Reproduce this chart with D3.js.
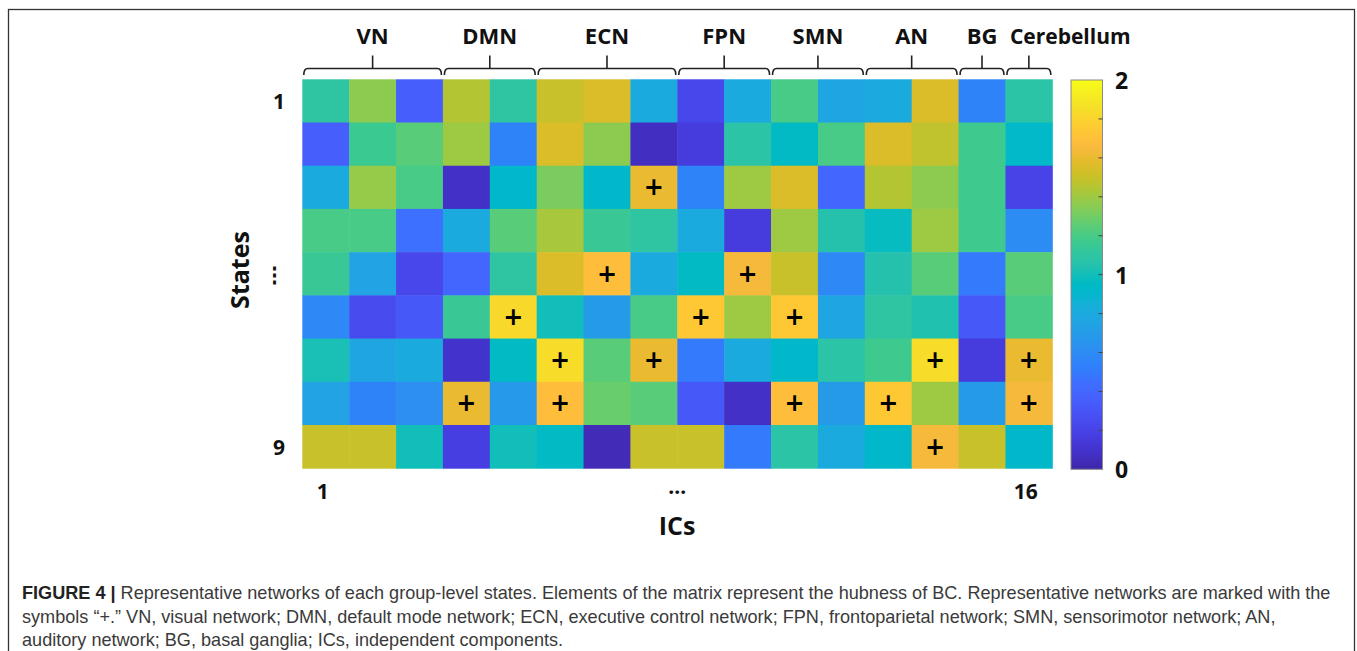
<!DOCTYPE html>
<meta charset="utf-8">
<style>
  body { margin: 0; background: #fff; }
  .grp { font-family: "Open Sans", sans-serif; font-weight: 700; font-size: 22px; fill: #111; }
  .tick { font-family: "Open Sans", sans-serif; font-weight: 700; font-size: 21px; fill: #111; }
  .ttl { font-family: "Open Sans", sans-serif; font-weight: 700; font-size: 25px; fill: #111; }
  .cap { font-family: "Liberation Sans", Arial, sans-serif; font-size: 18.1px; fill: #3a3a3a; }
</style>
<body>
<script src="https://d3js.org/d3.v7.min.js"></script>
<script>

// network groups over the 16 ICs
var groups = ["VN", "DMN", "ECN", "FPN", "SMN", "AN", "BG", "Cerebellum"];
var groupStart = [1, 4, 6, 9, 11, 13, 15, 16];
var groupEnd   = [3, 5, 8, 10, 12, 14, 15, 16];

var states = d3.range(1, 10);
var ics = d3.range(1, 17);

// hubness of BC, one row per state
var hubness = [
  [1.10, 1.36, 0.35, 1.45, 1.10, 1.50, 1.55, 0.80, 0.22, 0.80, 1.20, 0.76, 0.80, 1.55, 0.55, 1.08],
  [0.35, 1.16, 1.24, 1.40, 0.55, 1.55, 1.36, 0.07, 0.15, 1.08, 0.95, 1.20, 1.55, 1.48, 1.17, 0.93],
  [0.80, 1.38, 1.20, 0.08, 0.92, 1.32, 0.92, 1.60, 0.55, 1.40, 1.55, 0.40, 1.45, 1.36, 1.17, 0.20],
  [1.20, 1.20, 0.45, 0.80, 1.24, 1.42, 1.15, 1.10, 0.80, 0.15, 1.40, 1.05, 0.97, 1.40, 1.17, 0.60],
  [1.15, 0.75, 0.22, 0.40, 1.10, 1.55, 1.68, 0.80, 0.95, 1.64, 1.50, 0.58, 1.05, 1.24, 0.50, 1.24],
  [0.58, 0.25, 0.32, 1.15, 1.82, 1.00, 0.70, 1.20, 1.74, 1.40, 1.74, 0.76, 1.10, 1.04, 0.32, 1.20],
  [1.02, 0.76, 0.80, 0.10, 0.95, 1.84, 1.24, 1.60, 0.50, 0.80, 0.92, 1.08, 1.17, 1.84, 0.15, 1.60],
  [0.75, 0.55, 0.62, 1.60, 0.68, 1.68, 1.28, 1.24, 0.32, 0.08, 1.68, 0.70, 1.74, 1.40, 0.70, 1.64],
  [1.50, 1.50, 1.00, 0.17, 1.00, 0.95, 0.04, 1.50, 1.50, 0.50, 1.08, 0.80, 0.92, 1.64, 1.50, 0.92]
];

// representative networks, [state, IC]
var marked = [
  [3, 8], [5, 7], [5, 10], [6, 5], [6, 9], [6, 11],
  [7, 6], [7, 8], [7, 14], [7, 16],
  [8, 4], [8, 6], [8, 11], [8, 13], [8, 16], [9, 14]
];

var colorTicks = [0, 1, 2];

// parula (64)
var parula = [
  [0.2422,0.1504,0.6603],[0.2504,0.1650,0.7076],[0.2578,0.1818,0.7511],[0.2647,0.1978,0.7952],
  [0.2706,0.2147,0.8364],[0.2751,0.2342,0.8710],[0.2783,0.2559,0.8991],[0.2803,0.2782,0.9221],
  [0.2813,0.3006,0.9414],[0.2810,0.3228,0.9579],[0.2795,0.3447,0.9717],[0.2760,0.3667,0.9829],
  [0.2699,0.3892,0.9906],[0.2602,0.4123,0.9952],[0.2440,0.4358,0.9988],[0.2206,0.4603,0.9973],
  [0.1963,0.4847,0.9892],[0.1834,0.5074,0.9798],[0.1786,0.5289,0.9682],[0.1764,0.5499,0.9520],
  [0.1687,0.5703,0.9359],[0.1540,0.5902,0.9218],[0.1460,0.6091,0.9079],[0.1380,0.6276,0.8973],
  [0.1248,0.6459,0.8883],[0.1113,0.6635,0.8763],[0.0952,0.6798,0.8598],[0.0689,0.6948,0.8394],
  [0.0297,0.7082,0.8163],[0.0036,0.7203,0.7917],[0.0067,0.7312,0.7660],[0.0433,0.7411,0.7394],
  [0.0964,0.7500,0.7120],[0.1408,0.7584,0.6842],[0.1717,0.7670,0.6554],[0.1938,0.7758,0.6251],
  [0.2161,0.7843,0.5923],[0.2470,0.7918,0.5567],[0.2906,0.7973,0.5188],[0.3406,0.8008,0.4789],
  [0.3909,0.8029,0.4354],[0.4456,0.8024,0.3909],[0.5044,0.7993,0.3480],[0.5616,0.7942,0.3045],
  [0.6174,0.7876,0.2612],[0.6720,0.7793,0.2227],[0.7242,0.7698,0.1910],[0.7738,0.7598,0.1646],
  [0.8203,0.7498,0.1535],[0.8634,0.7406,0.1596],[0.9035,0.7330,0.1774],[0.9393,0.7288,0.2100],
  [0.9728,0.7298,0.2394],[0.9956,0.7434,0.2371],[0.9970,0.7659,0.2199],[0.9952,0.7893,0.2028],
  [0.9892,0.8136,0.1885],[0.9786,0.8386,0.1766],[0.9676,0.8639,0.1643],[0.9610,0.8890,0.1537],
  [0.9597,0.9135,0.1423],[0.9628,0.9373,0.1265],[0.9691,0.9606,0.1064],[0.9769,0.9839,0.0805]
].map(function(c) { return d3.rgb(c[0]*255, c[1]*255, c[2]*255).formatHex(); });

var W = 1357, H = 651;
var svg = d3.select("body").append("svg")
    .attr("width", W)
    .attr("height", H);

// figure frame
svg.append("rect")
    .attr("x", 8.5).attr("y", 9.5)
    .attr("width", 1346).attr("height", 700)
    .attr("fill", "none")
    .attr("stroke", "#333")
    .attr("stroke-width", 1.3);

var x = d3.scaleBand().domain(ics).range([302.3, 1052.3]);
var y = d3.scaleBand().domain(states).range([79.3, 468.2]);
var color = d3.scaleLinear()
    .domain(parula.map(function(d, i) { return i / 63 * 2; }))
    .range(parula)
    .clamp(true);

// cells
var cells = [];
hubness.forEach(function(row, i) {
  row.forEach(function(v, j) { cells.push({s: states[i], ic: ics[j], v: v}); });
});
svg.append("g").selectAll("rect")
    .data(cells)
  .enter().append("rect")
    .attr("x", function(d) { return x(d.ic); })
    .attr("y", function(d) { return y(d.s); })
    .attr("width", x.bandwidth() + 0.5)
    .attr("height", y.bandwidth() + 0.5)
    .attr("fill", function(d) { return color(d.v); });

// plus markers
svg.append("g").selectAll("text")
    .data(marked)
  .enter().append("text")
    .attr("x", function(d) { return x(d[1]) + x.bandwidth() / 2; })
    .attr("y", function(d) { return y(d[0]) + y.bandwidth() / 2; })
    .attr("text-anchor", "middle")
    .attr("dominant-baseline", "central")
    .style("font-family", "DejaVu Sans, sans-serif")
    .style("font-size", "24px")
    .style("font-weight", "700")
    .attr("fill", "#000")
    .text("+");

// group braces
var by = 68.5, bDrop = 6.5, bTop = 55.5;
groups.forEach(function(g, i) {
  var x0 = x(groupStart[i]) + 1.5,
      x1 = x(groupEnd[i]) + x.bandwidth() - 1.5,
      xm = (x0 + x1) / 2;
  var p = d3.path();
  p.moveTo(x0, by + bDrop);
  p.quadraticCurveTo(x0, by, x0 + 4, by);
  p.lineTo(x1 - 4, by);
  p.quadraticCurveTo(x1, by, x1, by + bDrop);
  p.moveTo(xm, by);
  p.lineTo(xm, bTop);
  svg.append("path")
      .attr("d", p.toString())
      .attr("fill", "none")
      .attr("stroke", "#222")
      .attr("stroke-width", 1.6);
  // the long last label starts near its brace instead of centring on it
  var last = i === groups.length - 1;
  svg.append("text")
      .attr("class", "grp")
      .attr("x", last ? x0 + 3 : xm)
      .attr("y", 44)
      .attr("text-anchor", last ? "start" : "middle")
      .style("font-size", last ? "21px" : null)
      .text(g);
});

// state tick labels
var stateLabels = [[1, "1"], [5, "\u22EE"], [9, "9"]];
svg.append("g").selectAll("text")
    .data(stateLabels)
  .enter().append("text")
    .attr("class", "tick")
    .attr("x", 285)
    .attr("y", function(d) { return y(d[0]) + y.bandwidth() / 2; })
    .attr("text-anchor", "end")
    .attr("dominant-baseline", "central")
    .text(function(d) { return d[1]; });

// IC tick labels
var icLabels = [[1, "1"], [8.5, "\u2026"], [16, "16"]];
svg.append("g").selectAll("text")
    .data(icLabels)
  .enter().append("text")
    .attr("class", "tick")
    .attr("x", function(d) { return d[0] === 8.5 ? (x(8) + x(9) + x.bandwidth()) / 2 : x(d[0]) + x.bandwidth() / 2 - 3; })
    .attr("y", function(d) { return d[0] === 8.5 ? 494 : 499; })
    .attr("text-anchor", "middle")
    .text(function(d) { return d[1]; });

svg.append("text")
    .attr("class", "ttl")
    .attr("x", 677)
    .attr("y", 535)
    .attr("text-anchor", "middle")
    .text("ICs");

svg.append("text")
    .attr("class", "ttl")
    .attr("transform", "translate(249,270) rotate(-90)")
    .attr("text-anchor", "middle")
    .text("States");

// colorbar
var cbX = 1071, cbW = 31.5;
var cb = d3.scaleLinear().domain([0, 2]).range([469.3, 80]);
var grad = svg.append("defs").append("linearGradient")
    .attr("id", "cbgrad")
    .attr("x1", 0).attr("y1", 1).attr("x2", 0).attr("y2", 0);
grad.selectAll("stop")
    .data(parula)
  .enter().append("stop")
    .attr("offset", function(d, i) { return i / 63; })
    .attr("stop-color", function(d) { return d; });
svg.append("rect")
    .attr("x", cbX).attr("y", cb(2))
    .attr("width", cbW).attr("height", cb(0) - cb(2))
    .attr("fill", "url(#cbgrad)")
    .attr("stroke", "#8a8a8a")
    .attr("stroke-width", 1);
svg.append("g").selectAll("line")
    .data(d3.range(1, 10).map(function(i) { return i * 0.2; }))
  .enter().append("line")
    .attr("x1", cbX + cbW - 4).attr("x2", cbX + cbW)
    .attr("y1", function(d) { return cb(d); })
    .attr("y2", function(d) { return cb(d); })
    .attr("stroke", "#444")
    .attr("stroke-width", 1);
svg.append("g").selectAll("text")
    .data(colorTicks)
  .enter().append("text")
    .attr("class", "tick")
    .attr("x", 1115)
    .attr("y", function(d) { return cb(d); })
    .attr("dominant-baseline", "central")
    .style("font-size", "23px")
    .text(function(d) { return d; });

// caption
var cap = svg.append("text").attr("class", "cap");
var l1 = cap.append("tspan").attr("x", 22).attr("y", 598.5);
l1.append("tspan").style("font-weight", "700").style("fill", "#222").text("FIGURE 4 | ");
l1.append("tspan").text("Representative networks of each group-level states. Elements of the matrix represent the hubness of BC. Representative networks are marked with the");
cap.append("tspan").attr("x", 22).attr("y", 622.5)
    .text("symbols \u201C+.\u201D VN, visual network; DMN, default mode network; ECN, executive control network; FPN, frontoparietal network; SMN, sensorimotor network; AN,");
cap.append("tspan").attr("x", 22).attr("y", 645.5)
    .text("auditory network; BG, basal ganglia; ICs, independent components.");

</script>
</body>
